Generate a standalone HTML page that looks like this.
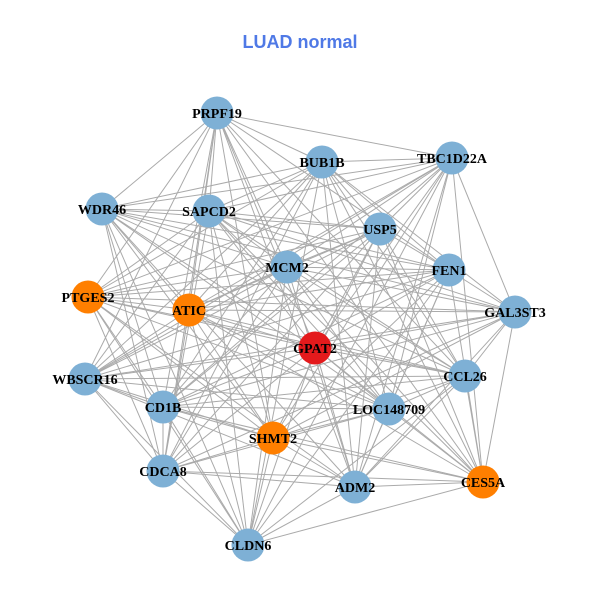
<!DOCTYPE html>
<html><head><meta charset="utf-8"><style>
html,body{margin:0;padding:0;background:#fff;width:600px;height:600px;overflow:hidden}
</style></head><body>
<svg id="g" width="600" height="600" xmlns="http://www.w3.org/2000/svg">
<rect width="600" height="600" fill="#fff"/>
<text x="300" y="48" text-anchor="middle" font-family="Liberation Sans, sans-serif" font-weight="bold" font-size="18" fill="#4f79e6">LUAD normal</text>
<g id="edges" stroke="#aaaaaa" stroke-width="1"></g>
<g id="nodes"></g>
</svg>
<script>
var N=[
["PRPF19",217,113,"#7eb0d5"],
["BUB1B",322,162,"#7eb0d5"],
["TBC1D22A",452,158,"#7eb0d5"],
["WDR46",102,209,"#7eb0d5"],
["SAPCD2",209,211,"#7eb0d5"],
["USP5",380,229,"#7eb0d5"],
["MCM2",287,267,"#7eb0d5"],
["FEN1",449,270,"#7eb0d5"],
["PTGES2",88,297,"#ff7f00"],
["ATIC",189,310,"#ff7f00"],
["GAL3ST3",515,312,"#7eb0d5"],
["GPAT2",315,348,"#e41a1c"],
["CCL26",465,376,"#7eb0d5"],
["WBSCR16",85,379,"#7eb0d5"],
["CD1B",163,407,"#7eb0d5"],
["LOC148709",389,409,"#7eb0d5"],
["SHMT2",273,438,"#ff7f00"],
["CDCA8",163,471,"#7eb0d5"],
["CES5A",483,482,"#ff7f00"],
["ADM2",355,487,"#7eb0d5"],
["CLDN6",248,545,"#7eb0d5"]];
var ns="http://www.w3.org/2000/svg",E=document.getElementById("edges"),G=document.getElementById("nodes");
for(var i=0;i<N.length;i++)for(var j=i+1;j<N.length;j++){
 if((i*7+j*3)%5==0)continue;
 var l=document.createElementNS(ns,"line");
 l.setAttribute("x1",N[i][1]);l.setAttribute("y1",N[i][2]);
 l.setAttribute("x2",N[j][1]);l.setAttribute("y2",N[j][2]);E.appendChild(l);}
N.forEach(function(n){
 var c=document.createElementNS(ns,"circle");
 c.setAttribute("cx",n[1]);c.setAttribute("cy",n[2]);c.setAttribute("r",16.5);c.setAttribute("fill",n[3]);G.appendChild(c);
 var t=document.createElementNS(ns,"text");
 t.setAttribute("x",n[1]);t.setAttribute("y",n[2]+5);t.setAttribute("text-anchor","middle");
 t.setAttribute("font-family","Liberation Serif, serif");t.setAttribute("font-weight","bold");t.setAttribute("font-size","14");
 t.textContent=n[0];G.appendChild(t);});
</script>
</body></html>
